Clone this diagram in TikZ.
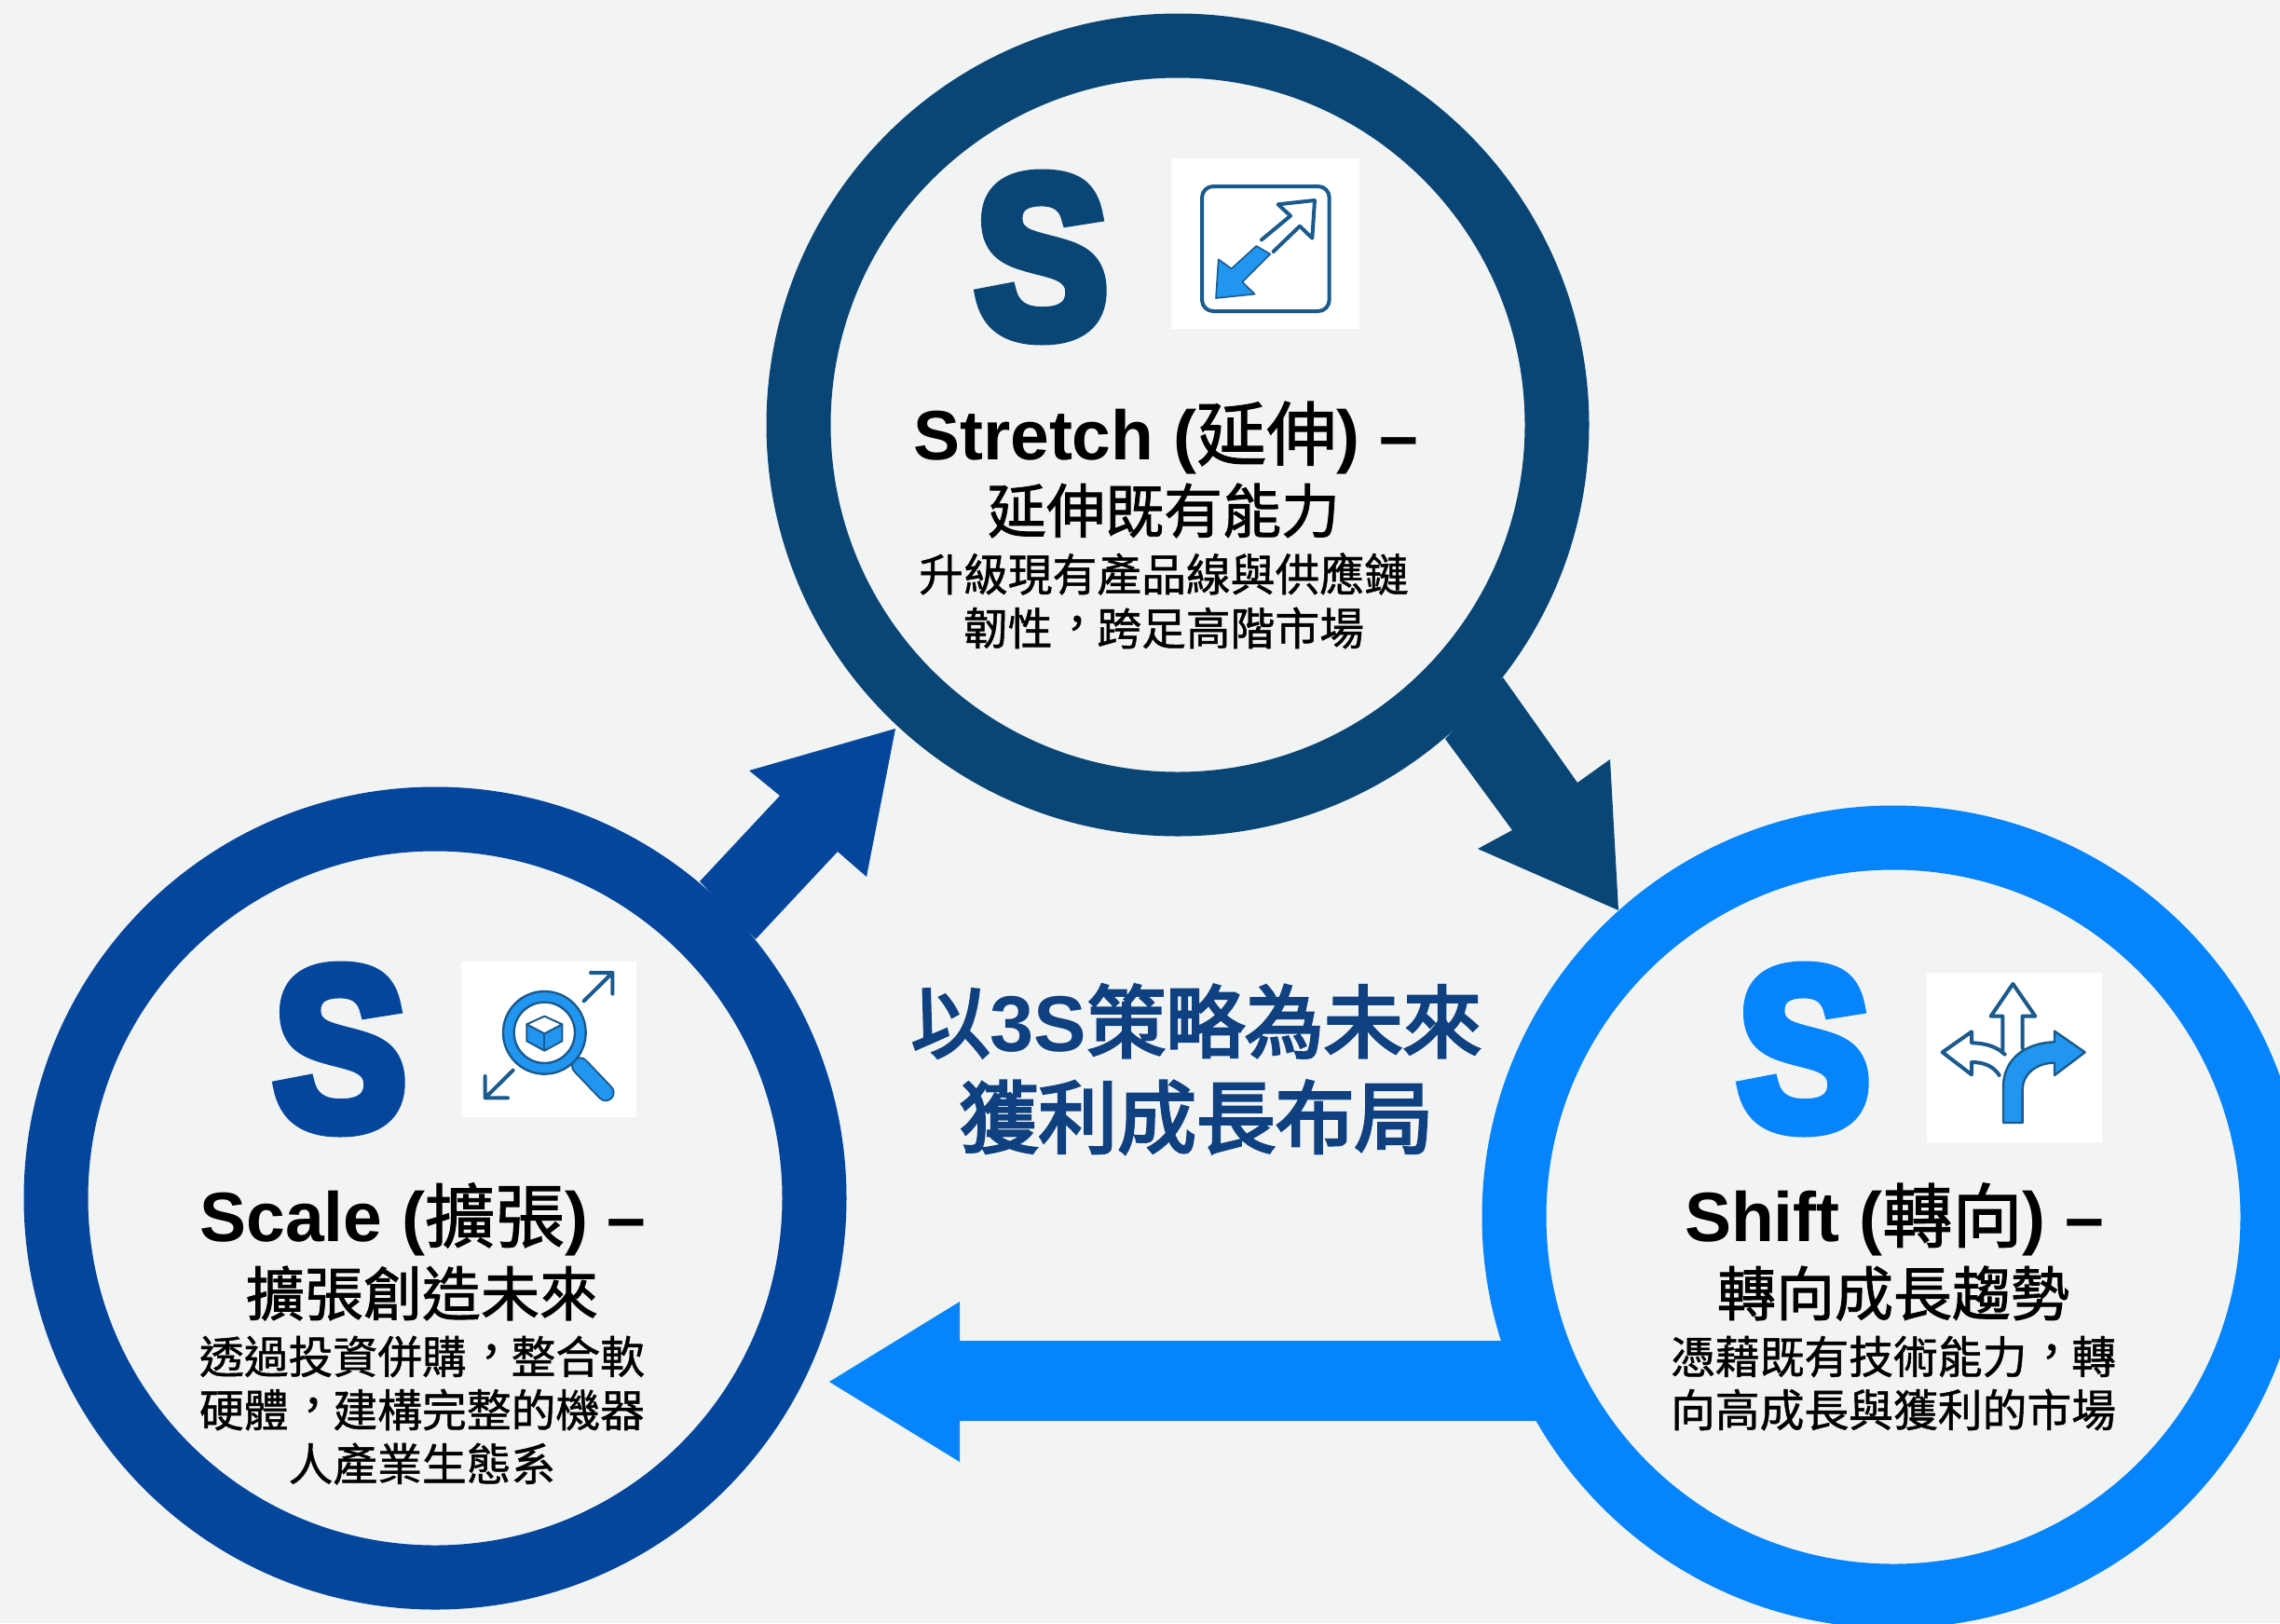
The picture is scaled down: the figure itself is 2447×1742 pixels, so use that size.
\documentclass[tikz,border=0pt]{standalone}
\usepackage{fontspec}
\setmainfont{Liberation Sans}
\newfontfamily\cjk[Script=CJK,Language=Chinese Traditional,FakeBold=1.0]{Noto Sans CJK TC}
\newfontfamily\cjks[Script=CJK,Language=Chinese Traditional,FakeBold=1.4]{Noto Sans CJK TC}
\newfontfamily\cjkh[Script=CJK,Language=Chinese Traditional,FakeBold=1.4]{Noto Sans CJK TC}
\newfontfamily\cjkm[Script=CJK,Language=Chinese Traditional,FakeBold=3.5]{Noto Sans CJK TC}
\newfontfamily\fats[FakeBold=6,FakeStretch=0.86]{Liberation Sans Bold}
\newcommand{\zhcomma}{\raisebox{0.13em}{\kern0.05em，\kern-0.05em}}
\definecolor{bgc}{HTML}{F2F4F4}
\definecolor{navy}{HTML}{0A4675}
\definecolor{royal}{HTML}{04469C}
\definecolor{azure}{HTML}{0584FB}
\definecolor{titleblue}{HTML}{0F4080}
\definecolor{iconline}{HTML}{1A5A8C}
\definecolor{iconfill}{HTML}{2196F0}
\tikzset{
  ring/.style={line width=34.5pt},
  bigs/.style={font=\fats\fontsize{123}{123}\selectfont,inner sep=0pt,anchor=center},
  headt/.style={font=\fontsize{37.5}{37.5}\selectfont\bfseries,inner sep=0pt,anchor=center},
  subt/.style={font=\cjks\fontsize{31.5}{31.5}\selectfont,inner sep=0pt,anchor=center},
  bodyt/.style={font=\cjk\fontsize{23.9}{23.9}\selectfont,inner sep=0pt,anchor=center},
  maint/.style={font=\cjkm\fontsize{42.4}{42.4}\selectfont,text=titleblue,inner sep=0pt,anchor=center},
  ico/.style={line width=2pt,draw=iconline,line join=round,line cap=round},
  icof/.style={ico,fill=iconfill},
}
\begin{document}
\begin{tikzpicture}[x=0.5pt,y=-0.5pt]
\useasboundingbox (0,0) rectangle (2447,1742);
\fill[bgc] (0,0) rectangle (2447,1742);
\begin{scope}
\clip (0,0) rectangle (2447,1742);
% arrows
\fill[navy] (1613,727) -- (1693,840) -- (1728,815) -- (1737,977) -- (1586,911) -- (1623,891) -- (1551,793) -- cycle;
\fill[royal] (751,946) -- (837,854) -- (804,827) -- (961,782) -- (930,941) -- (899,914) -- (811,1008) -- cycle;
\fill[azure] (1660,1439) -- (1030,1439) -- (1030,1397) -- (890,1483) -- (1030,1569) -- (1030,1525) -- (1660,1525) -- cycle;
% rings
\draw[ring,navy] (1264,456) circle (407);
\draw[ring,royal] (467,1286) circle (407);
\draw[ring,azure] (2032,1306) circle (407);
\end{scope}
% S letters
\node[bigs,text=navy] (s1) at (1118,276) {S};
\node[bigs,text=royal] (s2) at (365,1126) {S};
\node[bigs,text=azure] (s3) at (1936,1126) {S};
% icon 1
\fill[white] (1257,170) rectangle (1459,353);
\begin{scope}[shift={(1230,150)},x=0.5pt/3,y=-0.5pt/3]
\draw[ico,rounded corners=6pt] (180,150) rectangle (590,552);
\draw[ico] (372,322) -- (465,245) -- (425,208) -- (543,195) -- (535,317) -- (495,278) -- (410,360);
\fill[iconfill,draw=iconline,line width=0.8pt,line join=round] (355,342) -- (275,415) -- (233,385) -- (225,510) -- (350,497) -- (310,458) -- (400,368) -- cycle;
\end{scope}
% icon 2
\fill[white] (495,1032) rectangle (683,1199);
\begin{scope}[shift={(480,1020)},x=0.5pt/3,y=-0.5pt/3]
\draw[ico] (440,163) -- (532,72) (462,72) -- (532,72) -- (532,140);
\draw[ico] (212,386) -- (122,475) (122,405) -- (122,475) -- (195,475);
\draw[iconline,line width=9.6pt,line cap=round] (428,372) -- (510,458);
\draw[iconfill,line width=7.6pt,line cap=round] (428,372) -- (510,458);
\draw[icof,line width=1.2pt,even odd rule] (313,265) circle (133) (313,265) circle (98);
\fill[iconfill,draw=iconline,line width=1pt,line join=round] (256,238) -- (313,268) -- (370,238) -- (370,292) -- (313,323) -- (256,292) -- cycle;
\draw[iconline,line width=1pt,fill=white,line join=round] (256,238) -- (313,212) -- (370,238) -- (313,268) -- cycle;
\draw[iconline,line width=1pt] (313,268) -- (313,323);
\end{scope}
% icon 3
\fill[white] (2068,1044) rectangle (2256,1226);
\begin{scope}[shift={(2050,1030)},x=0.5pt/3,y=-0.5pt/3]
\draw[ico] (298,300) -- (298,182) -- (260,182) -- (331,78) -- (403,182) -- (362,182) -- (362,285);
\draw[ico] (305,305) .. controls (280,280) and (240,268) .. (198,268) -- (198,232) -- (104,298) -- (198,370) -- (198,330) .. controls (240,330) and (270,345) .. (287,372);
\fill[iconfill,draw=iconline,line width=1.2pt,line join=round] (300,525) -- (300,410) .. controls (300,320) and (370,268) .. (465,265) -- (465,230) -- (563,298) -- (465,372) -- (465,332) .. controls (410,332) and (362,365) .. (362,420) -- (362,525) -- cycle;
\end{scope}
% Top text
\node[headt] (h1) at (1251,470) {Stretch ({\cjkh\mdseries 延伸}) –};
\node[subt] (u1) at (1249,548) {延伸既有能力};
\node[bodyt] (b1a) at (1249,616) {升級現有產品線與供應鏈};
\node[bodyt] (b1b) at (1249,674) {韌性\zhcomma 跨足高階市場};
% Left text
\node[headt] (h2) at (454,1309) {Scale ({\cjkh\mdseries 擴張}) –};
\node[subt] (u2) at (453,1388) {擴張創造未來};
\node[bodyt] (b2a) at (453,1456) {透過投資併購\zhcomma 整合軟};
\node[bodyt] (b2b) at (453,1513) {硬體\zhcomma 建構完整的機器};
\node[bodyt] (b2c) at (453,1571) {人產業生態系};
% Right text
\node[headt] (h3) at (2033,1309) {Shift ({\cjkh\mdseries 轉向}) –};
\node[subt] (u3) at (2032,1388) {轉向成長趨勢};
\node[bodyt] (b3a) at (2032,1456) {憑藉既有技術能力\zhcomma 轉};
\node[bodyt] (b3b) at (2032,1513) {向高成長與獲利的市場};
% centre title
\node[maint] (m1) at (1284,1096) {以{\normalfont\bfseries 3S}策略為未來};
\node[maint] (m2) at (1284,1199) {獲利成長布局};
\end{tikzpicture}
\end{document}
